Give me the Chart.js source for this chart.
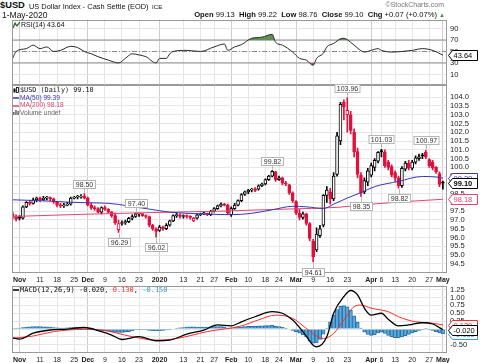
<!DOCTYPE html>
<html>
<head>
<meta charset="utf-8">
<title>$USD</title>
<script src="https://cdn.jsdelivr.net/npm/chart.js@4.4.1/dist/chart.umd.min.js"></script>
<style>
  body { margin: 0; width: 480px; height: 363px; overflow: hidden; position: relative; background: #fff; font-family: "Liberation Sans", Arial, sans-serif; color: #111; }
  canvas { position: absolute; left: 0; top: 0; }
  .t { position: absolute; white-space: nowrap; line-height: 1; z-index: 5; }
  .mono { font-family: "DejaVu Sans Mono", monospace; }
  .t svg { vertical-align: middle; margin-right: 1px; }
</style>
</head>
<body>
<div class="t" style="left:0px;top:1px;font-size:9.3px;font-weight:bold">$USD</div>
<div class="t" style="left:29px;top:2.5px;font-size:7.4px">US Dollar Index - Cash Settle (EOD)</div>
<div class="t" style="left:152px;top:3.5px;font-size:6.2px">ICE</div>
<div class="t" style="left:2px;top:11px;font-size:8.5px">1-May-2020</div>
<div class="t" style="right:36px;top:1px;font-size:7px;color:#777">&copy;StockCharts.com</div>
<div class="t" style="right:35px;top:11px;font-size:7.6px"><b>Open</b> 99.13 &nbsp;<b>High</b> 99.22 &nbsp;<b>Low</b> 98.76 &nbsp;<b>Close</b> 99.10 &nbsp;<b>Chg</b> +0.07 (+0.07%) <span style="color:#3a8a3a;font-size:6px">&#9650;</span></div>

<div class="t" style="left:13px;top:20.5px;font-size:7px"><svg width="7" height="6"><polyline points="0,6 2,1 4,4 7,0" fill="none" stroke="#2f6b2f" stroke-width="1.3"/></svg>RSI(14) 43.64</div>

<div class="t mono" style="left:13px;top:86.5px;font-size:6.8px"><svg width="6" height="7"><rect x="0.5" y="1.5" width="2" height="4" fill="#000"/><rect x="3.5" y="0.5" width="2" height="5" fill="none" stroke="#000" stroke-width="0.8"/></svg>$USD (Daily) 99.10</div>
<div class="t" style="left:13px;top:94.5px;font-size:6.6px;color:#3737b4"><svg width="6" height="4"><line x1="0" y1="2" x2="6" y2="2" stroke="#3737b4" stroke-width="1.5"/></svg>MA(50) 99.39</div>
<div class="t" style="left:13px;top:102.3px;font-size:6.6px;color:#e2456d"><svg width="6" height="4"><line x1="0" y1="2" x2="6" y2="2" stroke="#e2456d" stroke-width="1.5"/></svg>MA(200) 98.18</div>
<div class="t" style="left:13px;top:109.5px;font-size:6.6px;color:#666"><svg width="6" height="5"><rect x="0" y="2" width="1.5" height="3" fill="#666"/><rect x="2.2" y="0" width="1.5" height="5" fill="#666"/><rect x="4.4" y="1" width="1.5" height="4" fill="#666"/></svg>Volume undef</div>

<div class="t mono" style="left:13px;top:286.5px;font-size:7px"><svg width="6" height="4"><line x1="0" y1="2" x2="6" y2="2" stroke="#000" stroke-width="1.5"/></svg>MACD(12,26,9) -0.020, <span style="color:#ff2a2a">0.130</span>, <span style="color:#3d9bd3">-0.150</span></div>

<canvas id="rsi"></canvas>
<canvas id="price"></canvas>
<canvas id="macd"></canvas>

<script>
// trading days, Oct 30 2019 .. May 1 2020
const dates = [
  "10/30","10/31","11/1","11/4","11/5","11/6","11/7","11/8","11/11","11/12",
  "11/13","11/14","11/15","11/18","11/19","11/20","11/21","11/22","11/25","11/26",
  "11/27","11/29","12/2","12/3","12/4","12/5","12/6","12/9","12/10","12/11",
  "12/12","12/13","12/16","12/17","12/18","12/19","12/20","12/23","12/24","12/26",
  "12/27","12/30","12/31","1/2","1/3","1/6","1/7","1/8","1/9","1/10",
  "1/13","1/14","1/15","1/16","1/17","1/21","1/22","1/23","1/24","1/27",
  "1/28","1/29","1/30","1/31","2/3","2/4","2/5","2/6","2/7","2/10",
  "2/11","2/12","2/13","2/14","2/18","2/19","2/20","2/21","2/24","2/25",
  "2/26","2/27","2/28","3/2","3/3","3/4","3/5","3/6","3/9","3/10",
  "3/11","3/12","3/13","3/16","3/17","3/18","3/19","3/20","3/23","3/24",
  "3/25","3/26","3/27","3/30","3/31","4/1","4/2","4/3","4/6","4/7",
  "4/8","4/9","4/13","4/14","4/15","4/16","4/17","4/20","4/21","4/22",
  "4/23","4/24","4/27","4/28","4/29","4/30","5/1"
];

const open = [
  97.35,97.15,97.20,97.10,97.75,98.00,97.95,98.15,98.25,98.15,
  98.25,98.28,98.20,98.00,97.85,97.80,97.85,97.90,98.25,98.30,
  98.30,98.35,98.25,97.85,97.70,97.65,97.45,97.70,97.60,97.45,
  97.25,96.45,96.80,96.85,96.90,97.10,97.20,97.35,97.36,97.25,
  97.20,96.70,96.50,96.40,96.60,96.50,96.70,96.95,97.25,97.30,
  97.20,97.25,97.20,96.95,97.10,97.30,97.35,97.38,97.30,97.50,
  97.65,97.80,97.90,97.85,97.30,97.65,97.85,98.10,98.45,98.60,
  98.70,98.78,98.75,98.95,99.05,99.30,99.50,99.75,99.30,99.40,
  99.10,99.00,98.55,98.05,97.40,97.15,97.35,96.80,95.80,95.30,
  96.10,96.70,98.40,98.60,98.20,99.60,101.50,103.70,103.00,103.00,
  102.00,100.90,99.55,98.60,99.15,99.55,100.00,100.35,100.95,100.85,
  100.30,100.05,99.70,99.40,98.95,99.90,100.25,99.95,100.30,100.50,
  100.70,100.85,100.45,100.30,100.00,99.65,99.13
];
const high = [
  97.45,97.30,97.25,97.80,98.05,98.10,98.25,98.30,98.30,98.35,
  98.35,98.32,98.25,98.05,97.95,97.95,98.00,98.30,98.35,98.40,
  98.45,98.50,98.30,97.95,97.80,97.70,97.75,97.80,97.65,97.50,
  97.40,97.00,96.95,97.00,97.15,97.30,97.40,97.38,97.37,97.30,
  97.22,96.75,96.55,96.70,96.65,96.80,97.00,97.30,97.38,97.35,
  97.30,97.30,97.25,97.15,97.35,97.40,97.45,97.40,97.55,97.70,
  97.85,97.98,97.95,97.90,97.75,97.95,98.15,98.50,98.65,98.75,
  98.80,98.85,99.00,99.10,99.35,99.55,99.82,99.78,99.50,99.45,
  99.20,99.05,98.60,98.10,97.60,97.45,97.40,96.85,95.90,96.55,
  96.70,98.45,98.90,98.80,99.70,102.00,103.70,103.85,103.96,103.20,
  102.20,101.10,99.70,99.40,99.95,100.25,100.50,100.90,101.03,101.00,
  100.40,100.15,99.80,99.50,100.05,100.35,100.40,100.40,100.65,100.75,
  100.80,100.97,100.50,100.40,100.05,99.75,99.22
];
const low = [
  97.05,96.95,97.00,97.05,97.70,97.85,97.90,98.05,98.05,98.10,
  98.15,98.10,97.95,97.75,97.70,97.72,97.80,97.85,98.20,98.20,
  98.25,98.20,97.80,97.60,97.55,97.40,97.35,97.55,97.40,97.15,
  96.75,96.29,96.70,96.75,96.85,97.00,97.15,97.20,97.20,97.10,
  96.60,96.40,96.02,96.35,96.40,96.45,96.65,96.90,97.15,97.10,
  97.10,97.10,97.05,96.90,97.05,97.25,97.30,97.25,97.25,97.45,
  97.60,97.75,97.80,97.30,97.20,97.60,97.80,98.05,98.40,98.50,
  98.60,98.62,98.70,98.90,99.00,99.25,99.45,99.20,99.25,99.00,
  98.95,98.45,98.00,97.30,97.00,97.05,96.70,95.80,94.61,95.20,
  96.00,96.60,98.00,97.90,98.10,99.50,101.30,102.70,102.00,101.90,
  100.60,99.40,98.35,98.50,98.95,99.45,99.80,100.25,100.60,100.00,
  99.85,99.45,99.20,98.82,98.85,99.80,99.85,99.85,100.20,100.40,
  100.50,100.50,100.00,99.85,99.65,98.90,98.76
];
const close = [
  97.15,97.05,97.10,97.75,98.00,97.95,98.15,98.25,98.15,98.25,
  98.28,98.20,98.05,97.85,97.80,97.85,97.90,98.25,98.30,98.32,
  98.35,98.25,97.85,97.70,97.65,97.45,97.70,97.60,97.45,97.25,
  96.85,96.80,96.85,96.90,97.10,97.20,97.35,97.36,97.25,97.20,
  96.70,96.50,96.35,96.60,96.50,96.70,96.95,97.25,97.30,97.20,
  97.25,97.20,97.15,97.10,97.30,97.35,97.38,97.30,97.50,97.65,
  97.80,97.90,97.85,97.40,97.65,97.85,98.10,98.45,98.60,98.70,
  98.75,98.68,98.95,99.05,99.30,99.50,99.78,99.30,99.40,99.10,
  99.05,98.55,98.10,97.40,97.15,97.35,96.80,95.95,94.90,96.20,
  96.50,98.40,98.70,98.20,99.50,101.80,103.60,103.45,103.25,102.10,
  100.90,99.60,98.55,99.25,99.80,100.10,100.40,100.85,100.88,100.10,
  100.00,99.55,99.40,98.95,99.95,100.25,99.95,100.30,100.55,100.60,
  100.65,100.60,100.10,99.95,99.75,99.03,99.10
];

// moving averages at these day indexes
const ma50Idx = [0, 8, 16, 22, 28, 34, 40, 46, 52, 58, 64, 70, 76, 82, 86, 91, 94, 98, 102, 106, 113, 120, 124, 126];
const ma50Val = [98.15, 98.10, 98.02, 97.98, 97.95, 97.80, 97.62, 97.45, 97.37, 97.33, 97.30, 97.38, 97.58, 97.78, 97.75, 97.65, 97.90, 98.25, 98.56, 98.90, 99.20, 99.48, 99.45, 99.39];
const ma200Idx = [0, 20, 40, 60, 80, 95, 105, 115, 126];
const ma200Val = [97.20, 97.32, 97.42, 97.50, 97.62, 97.72, 97.90, 98.05, 98.18];

// RSI(14)
const rsiIdx = [0, 1, 4, 6, 8, 10, 12, 14, 17, 19, 21, 23, 25, 28, 31, 33, 35, 37, 39, 42, 43, 45, 46, 47, 51, 55, 59, 62, 63, 65, 67, 70, 73, 76, 77, 79, 82, 84, 86, 88, 89, 91, 92, 94, 96, 97, 99, 101, 103, 105, 107, 108, 111, 114, 117, 120, 123, 126];
const rsiVal = [38, 50, 55, 61, 55, 58, 50, 52, 59, 57, 50, 46, 41, 35, 30, 38, 46, 44, 41, 30, 38, 38, 46, 50, 52, 50, 58, 63, 52, 58, 62, 73, 75, 80, 66, 61, 49, 38, 35, 26, 38, 47, 58, 64, 72, 73, 66, 56, 49, 52, 55, 52, 49, 50, 52, 55, 52, 43.64];

// MACD(12,26,9)
const macdIdx = [0, 2, 6, 11, 16, 21, 26, 29, 32, 37, 42, 46, 51, 56, 60, 64, 67, 71, 76, 79, 82, 85, 88, 89, 92, 94, 97, 99, 101, 103, 105, 108, 110, 113, 116, 120, 123, 126];
const macdVal = [-0.28, -0.32, -0.13, -0.03, 0.00, 0.05, -0.08, -0.19, -0.33, -0.24, -0.37, -0.35, -0.16, -0.03, 0.13, 0.10, 0.23, 0.39, 0.55, 0.50, 0.29, -0.08, -0.51, -0.56, -0.24, 0.50, 1.03, 1.22, 1.08, 0.66, 0.44, 0.50, 0.31, 0.10, 0.13, 0.20, 0.16, -0.02];
const sigIdx = [0, 6, 12, 21, 26, 35, 42, 48, 57, 67, 72, 77, 82, 86, 91, 94, 97, 100, 102, 105, 110, 113, 118, 122, 126];
const sigVal = [-0.29, -0.22, -0.08, -0.01, -0.03, -0.24, -0.35, -0.30, -0.08, 0.10, 0.29, 0.44, 0.34, 0.02, -0.30, -0.14, 0.29, 0.71, 0.76, 0.66, 0.55, 0.39, 0.23, 0.20, 0.13];
const hist = [
  0.01,0.02,0.03,0.05,0.06,0.07,0.08,0.08,0.08,0.07,
  0.07,0.06,0.05,0.04,0.03,0.03,0.04,0.05,0.06,0.06,
  0.06,0.05,0.02,-0.01,-0.03,-0.04,-0.05,-0.06,-0.07,-0.09,
  -0.10,-0.11,-0.11,-0.10,-0.08,-0.05,-0.03,-0.01,-0.01,-0.02,
  -0.04,-0.05,-0.06,-0.05,-0.04,-0.03,-0.02,0.00,0.02,0.04,
  0.05,0.06,0.07,0.07,0.06,0.06,0.06,0.06,0.07,0.08,
  0.08,0.08,0.07,0.03,0.03,0.05,0.06,0.07,0.08,0.09,
  0.09,0.09,0.10,0.10,0.11,0.11,0.12,0.09,0.08,0.06,
  0.03,0.00,-0.04,-0.08,-0.13,-0.18,-0.25,-0.38,-0.45,-0.44,
  -0.33,-0.16,0.02,0.22,0.45,0.62,0.72,0.74,0.70,0.60,
  0.42,0.22,0.03,-0.10,-0.17,-0.20,-0.18,-0.12,-0.10,-0.14,
  -0.20,-0.24,-0.27,-0.28,-0.25,-0.21,-0.17,-0.12,-0.08,-0.04,
  -0.01,0.01,-0.01,-0.04,-0.08,-0.12,-0.15
];

// axis ticks
const tickIdx  = [2, 8, 13, 18, 22, 27, 32, 37, 43, 50, 55, 59, 64, 69, 74, 78, 83, 88, 93, 98, 105, 108, 112, 117, 122, 126];
const tickText = ["Nov","11","18","25","Dec","9","16","23","2020","13","21","27","Feb","10","18","24","Mar","9","16","23","Apr","6","13","20","27","May"];
const monthIdx = [2, 22, 43, 64, 83, 105, 126];
const rsiTicks = [10, 30, 50, 70, 90];
const rsiLevels = [70, 50, 30];
const priceTicks = [94.5, 95, 95.5, 96, 96.5, 97, 97.5, 98, 98.5, 99, 99.5, 100, 100.5, 101, 101.5, 102, 102.5, 103, 103.5, 104];
const macdTicks = [-0.5, -0.25, 0, 0.25, 0.5, 0.75, 1, 1.25];

// high / low callouts
const noteIdx  = [21, 31, 36, 42, 76, 88, 98, 102, 108, 113, 121];
const noteSide = ["H", "L", "H", "L", "H", "L", "H", "L", "H", "L", "H"];

const X_MIN = -0.2, X_MAX = 127.2;
const UP = "#000000", DOWN = "#e2103c";
const MA50C = "#3737b4", MA200C = "#e2456d", SIGC = "#ff2a2a";
const FONT = '"Liberation Sans", Arial, sans-serif';
Chart.defaults.font.family = FONT;

const pts = (xs, ys) => xs.map((x, i) => ({ x: x, y: ys[i] }));

const candleColor = close.map((c, i) => (i === 0 ? c >= open[i] : c >= close[i - 1]) ? UP : DOWN);
const bodyFill = close.map((c, i) => c > open[i] ? "#ffffff" : candleColor[i]);

const framePlugin = {
  id: "frame",
  afterDatasetsDraw(chart) {
    const a = chart.chartArea, ctx = chart.ctx;
    ctx.save();
    ctx.strokeStyle = "#9a9a9a";
    ctx.lineWidth = 1;
    ctx.strokeRect(Math.round(a.left) + 0.5, Math.round(a.top) + 0.5, Math.round(a.right - a.left) - 1, Math.round(a.bottom - a.top) - 1);
    ctx.restore();
  }
};

function tagPlugin(items) {
  return {
    id: "tags",
    afterDraw(chart) {
      const ctx = chart.ctx, ys = chart.scales.y, x0 = Math.round(chart.chartArea.right) + 1.5;
      items.forEach(t => {
        const y = Math.round(ys.getPixelForValue(t.value)) + 0.5;
        ctx.save();
        ctx.beginPath();
        ctx.moveTo(x0, y);
        ctx.lineTo(x0 + 4, y - 5);
        ctx.lineTo(x0 + 29, y - 5);
        ctx.lineTo(x0 + 29, y + 5);
        ctx.lineTo(x0 + 4, y + 5);
        ctx.closePath();
        ctx.fillStyle = "#fff";
        ctx.fill();
        ctx.strokeStyle = t.color;
        ctx.lineWidth = 1;
        ctx.stroke();
        ctx.fillStyle = t.color;
        ctx.font = (t.bold ? "bold " : "") + "7.5px " + FONT;
        ctx.textBaseline = "middle";
        ctx.fillText(t.text, x0 + 5, y + 0.5);
        ctx.restore();
      });
    }
  };
}

const notePlugin = {
  id: "notes",
  afterDatasetsDraw(chart) {
    const ctx = chart.ctx, xs = chart.scales.x, ys = chart.scales.y;
    ctx.save();
    ctx.font = "7px " + FONT;
    ctx.textAlign = "center";
    ctx.textBaseline = "middle";
    noteIdx.forEach((i, k) => {
      const isHigh = noteSide[k] === "H";
      const v = isHigh ? high[i] : low[i];
      const txt = v.toFixed(2);
      const x = Math.round(xs.getPixelForValue(i)) + 0.5;
      const y = ys.getPixelForValue(v);
      const by = Math.round(isHigh ? y - 10 : y + 10) + 0.5;
      const w = Math.round(ctx.measureText(txt).width) + 4;
      ctx.strokeStyle = "#b5b5b5";
      ctx.beginPath();
      ctx.moveTo(x, isHigh ? y - 1 : y + 1);
      ctx.lineTo(x, isHigh ? by + 4 : by - 4);
      ctx.stroke();
      ctx.fillStyle = "#fff";
      ctx.fillRect(x - w / 2, by - 4, w, 8);
      ctx.strokeRect(x - w / 2, by - 4, w, 8);
      ctx.fillStyle = "#333";
      ctx.fillText(txt, x, by + 0.5);
    });
    ctx.restore();
  }
};

function xScale(showLabels) {
  return {
    type: "linear", min: X_MIN, max: X_MAX, offset: false, bounds: "data",
    afterBuildTicks: a => { a.ticks = tickIdx.map(v => ({ value: v })); },
    grid: {
      offset: false, drawTicks: false,
      color: c => (c.tick && monthIdx.includes(c.tick.value)) ? "#cdcdcd" : "#e6e6e6"
    },
    border: { display: false },
    ticks: {
      display: showLabels, autoSkip: false, maxRotation: 0, minRotation: 0, padding: 3, color: "#222",
      font: c => ({ family: FONT, size: 7, weight: (c.tick && monthIdx.includes(c.tick.value)) ? "bold" : "normal" }),
      callback: v => tickText[tickIdx.indexOf(v)]
    }
  };
}

function yScale(min, max, ticks, digits) {
  return {
    position: "right", min: min, max: max, bounds: "data",
    afterBuildTicks: a => { a.ticks = ticks.map(v => ({ value: v })); },
    afterFit: a => { a.width = 33; },
    grid: { drawTicks: false, color: "#e6e6e6" },
    border: { display: false },
    ticks: { autoSkip: false, padding: 3, color: "#222", font: { family: FONT, size: 7.6 }, callback: v => v.toFixed(digits) }
  };
}

function common(scales) {
  return {
    responsive: false, maintainAspectRatio: false, animation: false, events: [],
    layout: { padding: { left: 12, right: 0, top: 0, bottom: 0 } },
    scales: scales,
    plugins: { legend: { display: false }, tooltip: { enabled: false } }
  };
}

const levelLine = v => ({
  data: [{ x: X_MIN, y: v }, { x: X_MAX, y: v }],
  borderColor: "#8c8c8c", borderWidth: 1, pointRadius: 0,
  borderDash: v === 50 ? [5, 2, 1, 2] : [], order: 3
});

const rsiCfg = () => ({
  type: "line",
  data: {
    datasets: [
      { data: pts(rsiIdx, rsiVal), borderColor: "#2a2a2a", borderWidth: 1, pointRadius: 0, cubicInterpolationMode: "monotone",
        fill: { target: { value: 70 }, above: "#5f8f55", below: "rgba(0,0,0,0)" }, order: 0 },
      { data: pts(rsiIdx, rsiVal), borderWidth: 0, borderColor: "rgba(0,0,0,0)", pointRadius: 0, cubicInterpolationMode: "monotone",
        fill: { target: { value: 30 }, above: "rgba(0,0,0,0)", below: "#b8585c" }, order: 1 }
    ].concat(rsiLevels.map(levelLine))
  },
  options: common({ x: xScale(false), y: yScale(-7.4, 105.65, rsiTicks, 0) }),
  plugins: [framePlugin, tagPlugin([{ value: 43.64, text: "43.64", color: "#000" }])]
});

const priceCfg = () => ({
  type: "bar",
  data: {
    datasets: [
      { type: "line", data: pts(ma50Idx, ma50Val), borderColor: MA50C, borderWidth: 1, pointRadius: 0, cubicInterpolationMode: "monotone", order: 0 },
      { type: "line", data: pts(ma200Idx, ma200Val), borderColor: MA200C, borderWidth: 1, pointRadius: 0, cubicInterpolationMode: "monotone", order: 0 },
      { data: dates.map((d, i) => ({ x: i, y: [Math.min(open[i], close[i]), Math.max(open[i], close[i])] })),
        backgroundColor: bodyFill, borderColor: candleColor, borderWidth: 1, borderSkipped: false,
        barThickness: 3, minBarLength: 1, grouped: false, order: 1 },
      { data: dates.map((d, i) => ({ x: i, y: [low[i], high[i]] })),
        backgroundColor: candleColor, barThickness: 1, grouped: false, order: 2 }
    ]
  },
  options: common({ x: xScale(true), y: yScale(94.0, 104.72, priceTicks, 1) }),
  plugins: [framePlugin, notePlugin, tagPlugin([
    { value: 99.39, text: "99.39", color: MA50C },
    { value: 98.18, text: "98.18", color: MA200C },
    { value: 99.10, text: "99.10", color: "#000", bold: true }
  ])]
});

const macdCfg = () => ({
  type: "bar",
  data: {
    datasets: [
      { type: "line", data: pts(macdIdx, macdVal), borderColor: "#000", borderWidth: 1.3, pointRadius: 0, cubicInterpolationMode: "monotone", order: 0 },
      { type: "line", data: pts(sigIdx, sigVal), borderColor: SIGC, borderWidth: 1, pointRadius: 0, cubicInterpolationMode: "monotone", order: 1 },
      { data: hist.map((v, i) => ({ x: i, y: v })), backgroundColor: "#5aaade", borderColor: "#2b6fa3", borderWidth: 1,
        barPercentage: 1, categoryPercentage: 1, grouped: false, order: 2 }
    ]
  },
  options: common({ x: xScale(true), y: yScale(-0.745, 1.377, macdTicks, 2) }),
  plugins: [framePlugin, tagPlugin([
    { value: 0.130, text: "0.130", color: SIGC },
    { value: -0.150, text: "-0.150", color: "#3d9bd3" },
    { value: -0.020, text: "-0.020", color: "#000" }
  ])]
});

// build twice: first to learn how much room the axes take, then at the final size
function build(id, cfgFn, top, height) {
  const cv = document.getElementById(id);
  cv.width = 480;
  cv.height = Math.round(height + 30);
  let ch = new Chart(cv, cfgFn());
  const a = ch.chartArea;
  const extra = ch.height - (a.bottom - a.top);
  ch.destroy();
  cv.width = 480;
  cv.height = Math.round(height + extra);
  ch = new Chart(cv, cfgFn());
  cv.style.top = Math.round(top - ch.chartArea.top) + "px";
  cv.style.left = Math.round(12 - ch.chartArea.left) + "px";
  return ch;
}

build("rsi", rsiCfg, 20, 65);
build("price", priceCfg, 85, 188);
build("macd", macdCfg, 286, 67);
</script>
</body>
</html>
